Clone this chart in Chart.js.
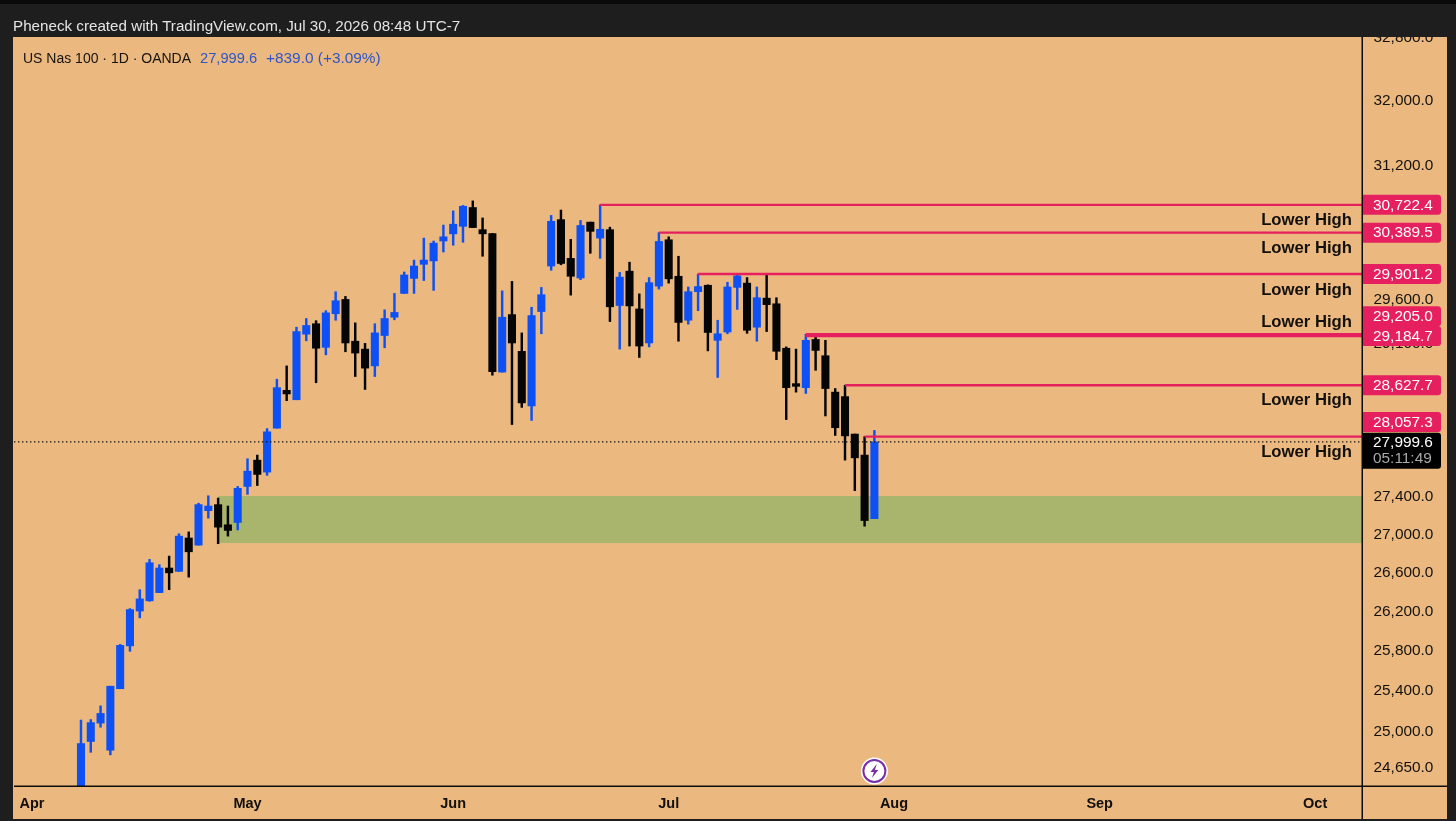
<!DOCTYPE html>
<html lang="en">
<head>
<meta charset="UTF-8">
<title>US Nas 100 1D OANDA</title>
<script src="https://cdn.jsdelivr.net/npm/chart.js@4"></script>
<style>
  html, body { margin: 0; padding: 0; background: #1e1e1e; overflow: hidden; }
  #wrap { position: relative; width: 1456px; height: 821px; }
  canvas { position: absolute; left: 0; top: 0; }
  .txt { position: absolute; white-space: nowrap; font-family: "Liberation Sans", sans-serif; }
  #credit { left: 13px; top: 17px; font-size: 15.2px; line-height: 18px; color: #e4e4e4; }
  #legend { left: 23px; top: 49px; font-size: 14px; line-height: 18px; color: #17130f; }
  #legend span { position: absolute; top: 0; color: #2f55c8; }
  #value { left: 177px; font-size: 14.7px; }
  #change { left: 243px; font-size: 15.4px; }
</style>
</head>
<body>
<div id="wrap">
  <canvas id="chart" width="1456" height="821"></canvas>
  <div class="txt" id="credit">Pheneck created with TradingView.com, Jul 30, 2026 08:48 UTC-7</div>
  <div class="txt" id="legend">US Nas 100 · 1D · OANDA <span id="value">27,999.6</span> <span id="change">+839.0 (+3.09%)</span></div>
</div>
<script>
// bar 0 is Apr 1, one slot per weekday; first visible candle is Apr 8
const firstBar = 5;
const opens = [24300,24900,25080,24815,25420,25850,26205,26310,26395,26650,26615,26965,26890,27255,27320,27105,27130,27515,27800,27670,
  28150,28570,28465,29205,29325,29055,29440,29605,29125,29035,28845,29190,29400,29675,29850,30015,30055,30290,30375,30465,
  30690,30425,30380,28775,29430,29010,28395,29465,29995,30545,30085,29855,30515,30325,30425,29535,29935,29495,29105,29760,
  30305,29875,29365,29695,29770,29135,29230,29745,29795,29285,29620,29555,29045,28645,28600,29145,28960,28550,28500,28085,27855,27170];
const highs = [25110,25115,25250,25445,25865,26230,26425,26740,26685,26775,27010,27030,27335,27415,27390,27305,27515,27815,27855,28145,
  28695,28845,29285,29385,29360,29475,29695,29640,29335,29100,29325,29485,29675,29925,30065,30325,30290,30480,30650,30715,
  30770,30565,30380,29705,29815,29220,29515,29745,30595,30660,30310,30535,30515,30722.4,30455,29920,30040,29670,29860,30389.5,
  30340,30110,29750,29901.2,29775,29365,29805,29901.2,29860,29750,29900,29625,29060,29035,29205,29184.7,29135,28590,28627.7,28085,28057.3,28125];
const lows = [24280,24795,25040,24770,25420,25795,26135,26305,26395,26425,26615,26555,26890,27175,26905,26985,27050,27430,27525,27635,
  28150,28455,28465,29130,28655,28970,29365,29005,28725,28580,28725,29050,29370,29675,29675,29825,29710,30160,30240,30275,
  30450,30110,28740,28775,28190,28380,28235,29210,29945,30010,29655,29835,30145,30085,29350,29035,29070,28940,29060,29725,
  29795,29125,29320,29475,29015,28715,29210,29490,29215,29125,29235,28915,28245,28550,28535,28795,28285,28070,27800,27470,27090,27170];
const closes = [24880,25085,25175,25445,25855,26220,26330,26705,26650,26600,26985,26820,27320,27305,27080,27045,27495,27680,27645,28110,
  28600,28530,29235,29305,29045,29450,29590,29105,28990,28820,29220,29385,29455,29890,29995,30065,30265,30340,30490,30705,
  30450,30375,28780,29400,29105,28430,29420,29660,30525,30025,29875,30475,30405,30430,29520,29865,29530,29070,29800,30285,
  29845,29340,29695,29755,29225,29210,29750,29880,29250,29625,29545,29010,28600,28615,29135,29020,28590,28155,28065,27825,27150,27999.6];

const monthBars = [0, 22, 43, 65, 88, 109, 131];
const monthLabels = ['Apr', 'May', 'Jun', 'Jul', 'Aug', 'Sep', 'Oct'];
const priceTicks = [32800,32000,31200,30400,29600,29100,28600,28200,27800,27400,27000,26600,26200,25800,25400,25000,24650];

const levels = [30722.4, 30389.5, 29901.2, 29205.0, 29184.7, 28627.7, 28057.3];
const levelStartBars = [58, 64, 68, 79, 79, 83, 85];
// pixels the price tags and the "Lower High" notes sit away from their level
const tagShifts = [0, 0, 0, -18, 0, 0, -14.5];
const noteShifts = [15.5, 15.5, 16, -12, null, 15.5, 16];

const lastPrice = 27999.6;
const countdown = '05:11:49';
const zoneTop = 27412, zoneBottom = 26912, zoneStartBar = 19;
const eventBar = 86;

const xMin = -1.838, xMax = 135.78;
const yMin = 24470, yMax = 32809;

const BLUE = '#0d50f5', BLACK = '#050505', PINK = '#e6205f', BG = '#ebb97f', FRAME = '#1e1e1e';
const FONT = '"Liberation Sans", sans-serif';

const fmt = v => v.toLocaleString('en-US', { minimumFractionDigits: 1, maximumFractionDigits: 1 });
const candleColors = closes.map((c, i) => (c >= opens[i] && i !== 73 ? BLUE : BLACK));

const paintPlugin = {
  id: 'paint',
  beforeDraw(chart) {
    const { ctx, width, height } = chart;
    ctx.save();
    ctx.fillStyle = BG;
    ctx.fillRect(0, 0, width, height);
    ctx.restore();
  },
  beforeDatasetsDraw(chart) {
    const { ctx, scales: { x, y }, chartArea } = chart;
    const left = x.getPixelForValue(zoneStartBar);
    const top = y.getPixelForValue(zoneTop);
    ctx.save();
    ctx.fillStyle = '#a9b46c';
    ctx.fillRect(left, top, chartArea.right - left, y.getPixelForValue(zoneBottom) - top);
    ctx.restore();
  },
  afterDraw(chart) {
    const { ctx, width, height, scales: { x, y }, chartArea } = chart;
    ctx.save();

    // Lower High notes
    ctx.font = 'bold 16.7px ' + FONT;
    ctx.fillStyle = '#120f0c';
    ctx.textAlign = 'right';
    ctx.textBaseline = 'middle';
    levels.forEach((lv, i) => {
      if (noteShifts[i] === null) return;
      ctx.fillText('Lower High', 1352, y.getPixelForValue(lv) + noteShifts[i]);
    });

    // axis lines run on past the plot
    ctx.fillStyle = '#0e0c0a';
    ctx.fillRect(chartArea.right - 0.5, chartArea.top, 1.5, height - chartArea.top);
    ctx.fillRect(chartArea.left, chartArea.bottom - 0.5, width - chartArea.left, 1.5);

    // price tags
    ctx.textAlign = 'left';
    ctx.font = '15.4px ' + FONT;
    levels.forEach((lv, i) => {
      const cy = y.getPixelForValue(lv) + tagShifts[i];
      ctx.fillStyle = PINK;
      ctx.beginPath();
      ctx.roundRect(1363, cy - 10, 78, 20, [0, 3, 3, 0]);
      ctx.fill();
      ctx.fillStyle = '#ffffff';
      ctx.fillText(fmt(lv), 1373, cy + 0.5);
    });
    const ly = y.getPixelForValue(lastPrice);
    ctx.fillStyle = '#000000';
    ctx.beginPath();
    ctx.roundRect(1363, ly - 9, 78, 36, [0, 3, 3, 0]);
    ctx.fill();
    ctx.fillStyle = '#ffffff';
    ctx.fillText(fmt(lastPrice), 1373, ly + 0.5);
    ctx.fillStyle = '#a8a8a8';
    ctx.fillText(countdown, 1373, ly + 17);

    // event marker
    const ex = x.getPixelForValue(eventBar), ey = 771;
    ctx.beginPath();
    ctx.arc(ex, ey, 13.5, 0, Math.PI * 2);
    ctx.fillStyle = '#ffffff';
    ctx.fill();
    ctx.beginPath();
    ctx.arc(ex, ey, 11, 0, Math.PI * 2);
    ctx.strokeStyle = '#7a2ea6';
    ctx.lineWidth = 2;
    ctx.stroke();
    ctx.beginPath();
    ctx.moveTo(ex + 2.5, ey - 7);
    ctx.lineTo(ex - 4, ey + 1);
    ctx.lineTo(ex - 0.5, ey + 1);
    ctx.lineTo(ex - 2.5, ey + 7);
    ctx.lineTo(ex + 4, ey - 1);
    ctx.lineTo(ex + 0.5, ey - 1);
    ctx.closePath();
    ctx.fillStyle = '#7a2ea6';
    ctx.fill();

    // window frame goes over everything, it cuts the top tick label
    ctx.fillStyle = FRAME;
    ctx.fillRect(0, 0, width, chartArea.top);
    ctx.fillRect(0, 0, 13, height);
    ctx.fillRect(1447, 0, 9, height);
    ctx.fillRect(0, 819, width, 2);
    ctx.fillStyle = '#0a0a0a';
    ctx.fillRect(0, 0, width, 4);
    ctx.restore();
  }
};

new Chart(document.getElementById('chart'), {
  type: 'bar',
  data: {
    datasets: [
      {
        label: 'Last price',
        type: 'line',
        data: [{ x: xMin, y: lastPrice }, { x: xMax, y: lastPrice }],
        borderColor: '#141210',
        borderWidth: 1.3,
        borderDash: [1.4, 2.6],
        pointRadius: 0,
        order: 0
      },
      ...levels.map((lv, i) => ({
        label: 'Level ' + lv,
        type: 'line',
        data: [{ x: levelStartBars[i], y: lv }, { x: xMax, y: lv }],
        borderColor: PINK,
        borderWidth: 2.4,
        pointRadius: 0,
        order: 0
      })),
      {
        label: 'Body',
        data: opens.map((o, i) => ({ x: firstBar + i, y: [o, closes[i]] })),
        backgroundColor: candleColors,
        barThickness: 7.4,
        grouped: false,
        order: 1
      },
      {
        label: 'Wick',
        data: highs.map((h, i) => ({ x: firstBar + i, y: [lows[i], h] })),
        backgroundColor: candleColors,
        barThickness: 1.8,
        grouped: false,
        order: 2
      }
    ]
  },
  options: {
    responsive: false,
    animation: false,
    layout: { padding: { left: 14, top: 37, right: 0, bottom: 0 } },
    plugins: { legend: { display: false }, tooltip: { enabled: false }, title: { display: false } },
    scales: {
      x: {
        type: 'linear',
        offset: false,
        min: xMin,
        max: xMax,
        grid: { display: false, drawTicks: false },
        border: { display: false },
        afterBuildTicks: s => { s.ticks = monthBars.map(v => ({ value: v })); },
        afterFit: s => { s.height = 35; },
        ticks: {
          autoSkip: false,
          maxRotation: 0,
          padding: 9,
          color: '#120f0c',
          font: { family: FONT, size: 14.5, weight: 'bold' },
          callback: v => monthLabels[monthBars.indexOf(v)]
        }
      },
      y: {
        type: 'logarithmic',
        position: 'right',
        min: yMin,
        max: yMax,
        beginAtZero: false,
        grid: { display: false, drawTicks: false },
        border: { display: false },
        afterBuildTicks: s => { s.ticks = priceTicks.map(v => ({ value: v })); },
        afterFit: s => { s.width = 94; },
        ticks: {
          autoSkip: false,
          padding: 11.5,
          color: '#14110e',
          font: { family: FONT, size: 15.4 },
          callback: v => fmt(v)
        }
      }
    }
  },
  plugins: [paintPlugin]
});
</script>
</body>
</html>
